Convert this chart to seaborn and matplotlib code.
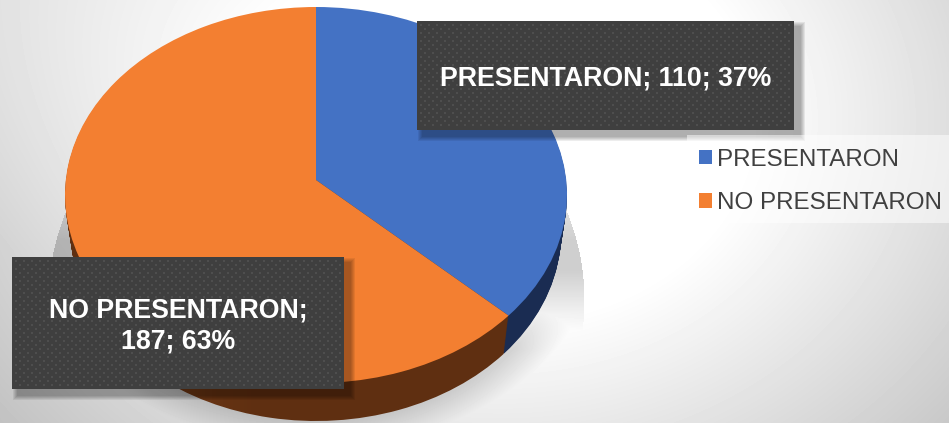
#!/usr/bin/env python3
import numpy as np
import matplotlib
matplotlib.use("Agg")
import matplotlib.pyplot as plt
from matplotlib.patches import PathPatch, Patch, Rectangle
from matplotlib.path import Path
import seaborn as sns

# Data
categories = ["PRESENTARON", "NO PRESENTARON"]
counts = [110, 187]
percents = [37, 63]
top_colors = ["#4472C4", "#F37F31"]
side_colors = ["#1A2C52", "#5F2F11"]

W, H = 949, 423
TILT = 0.08  # how far the perspective lifts the pie centre
DEPTH = 38

sns.set_theme(style="white")
plt.rcParams["font.family"] = ["Liberation Sans", "DejaVu Sans"]

fig = plt.figure(figsize=(W / 100, H / 100), dpi=100)


def pixel_axes(zorder):
    ax = fig.add_axes([0, 0, 1, 1], zorder=zorder)
    ax.set_xlim(0, W)
    ax.set_ylim(H, 0)
    ax.axis("off")
    return ax


def tilted(wedge):
    # projective map that keeps the rim a circle but moves the centre up
    p = wedge.get_path()
    x, y = p.vertices[:, 0], p.vertices[:, 1]
    d = 1 + TILT * y
    v = np.column_stack([x * np.sqrt(1 - TILT ** 2) / d, (y + TILT) / d])
    return Path(v, p.codes)


def draw_pie(left, right, top, bottom, colors, zorder):
    ax = fig.add_axes([left / W, 1 - bottom / H, (right - left) / W, (bottom - top) / H], zorder=zorder)
    wedges, _ = ax.pie(counts, startangle=90, counterclock=False, radius=1)
    ax.set_aspect("auto")
    ax.set_xlim(-1, 1)
    ax.set_ylim(-1, 1)
    ax.axis("off")
    patches = []
    for w, c in zip(wedges, colors):
        patches.append(ax.add_patch(PathPatch(tilted(w), fc=c, lw=0, clip_on=False)))
        w.set_visible(False)
    return ax, patches


# Background: soft grey gradient plus the pie's drop shadow
yy, xx = np.mgrid[0:H, 0:W]
dist = np.hypot(xx - 500, 1.25 * (yy - 120))
grey = np.clip(1 - (dist - 250) * 0.215 / 337, 0, 1)
grey += 0.06 * np.clip(1 - xx / 300, 0, 1) * np.clip(1 - yy / 250, 0, 1)

hard = np.hypot((xx - 316) / 268, (yy - 300) / 250) < 1
shadow = 0.19 * hard * np.clip((yy - 150) / 90, 0, 1) * np.clip((330 - yy) / 60, 0, 1)
low = np.hypot((xx - 316) / 250, (yy - 233) / 188)
shadow = np.maximum(shadow, 0.15 * np.clip((1.14 - low) / 0.14, 0, 1) * np.clip((yy - 290) / 60, 0, 1))

bg = pixel_axes(0)
bg.imshow(np.clip(grey * (1 - shadow), 0, 1), cmap="gray", vmin=0, vmax=1, extent=(0, W, H, 0), aspect="auto")

# Side of the pie: layers from the bottom up, each a little wider than the last
for i in range(DEPTH, 0, -1):
    inset = 6 * i / DEPTH
    side_ax, side_patches = draw_pie(65 + inset, 567 - inset, 7 + i, 383 + i, side_colors, 1 + (DEPTH - i) * 0.01)

# lighter patch on the orange side, towards the left
bottom_ax, bottom_patches = draw_pie(71, 561, 45, 421, side_colors, 1.5)
bottom_patches[0].set_visible(False)
bottom_patches[1].set_visible(False)
glow = np.zeros((1, 200, 4))
glow[..., :3] = [1.0, 0.6, 0.3]
glow[..., 3] = np.clip(1 - np.arange(200) / 120, 0, 1) * 0.14
img = bottom_ax.imshow(glow, extent=(-0.75, 0.1, -1.05, -0.3), aspect="auto", zorder=5)
img.set_clip_path(bottom_patches[1].get_path(), bottom_ax.transData)
bottom_ax.set_xlim(-1, 1)
bottom_ax.set_ylim(-1, 1)

# Top face
draw_pie(65, 567, 7, 383, top_colors, 2)

# Labels and legend
ov = pixel_axes(3)


def label_box(x0, y0, x1, y1, text, text_y):
    for grow in range(5, 0, -1):
        ov.add_patch(Rectangle((x0 + 6 - grow, y0 + 6 - grow), x1 - x0 + 2 * grow, y1 - y0 + 2 * grow,
                               fc="black", alpha=0.07, lw=0))
    ov.add_patch(Rectangle((x0, y0), x1 - x0, y1 - y0, fc="#3F3F3F", lw=0))
    gx, gy = np.meshgrid(np.arange(x0 + 4, x1 - 1, 8), np.arange(y0 + 4, y1 - 1, 8))
    hx, hy = np.meshgrid(np.arange(x0 + 8, x1 - 1, 8), np.arange(y0 + 8, y1 - 1, 8))
    ov.scatter(np.r_[gx.ravel(), hx.ravel()], np.r_[gy.ravel(), hy.ravel()], marker="s", s=2.0,
               color="#4E4E4E", linewidths=0)
    ov.text((x0 + x1) / 2, text_y, text, color="white", fontsize=19.3, fontweight="bold",
            ha="center", va="center", linespacing=1.23)


label_box(417, 21, 794, 130, f"{categories[0]}; {counts[0]}; {percents[0]}%", 78.5)
label_box(12, 257, 344, 389, f"{categories[1]};\n{counts[1]}; {percents[1]}%", 326)

ov.add_patch(Rectangle((687, 135), W - 687, 88, fc="white", alpha=0.5, lw=0))
handles = [Patch(fc=c, lw=0) for c in top_colors]
ov.legend(handles, categories, loc="upper left", bbox_to_anchor=(699 / W, 1 - 148.5 / H), frameon=False,
          fontsize=17.4, labelcolor="#404040", handlelength=0.54, handleheight=0.54, handletextpad=0.2,
          labelspacing=0.9, borderpad=0, borderaxespad=0)

fig.savefig("out.png", dpi=100)
